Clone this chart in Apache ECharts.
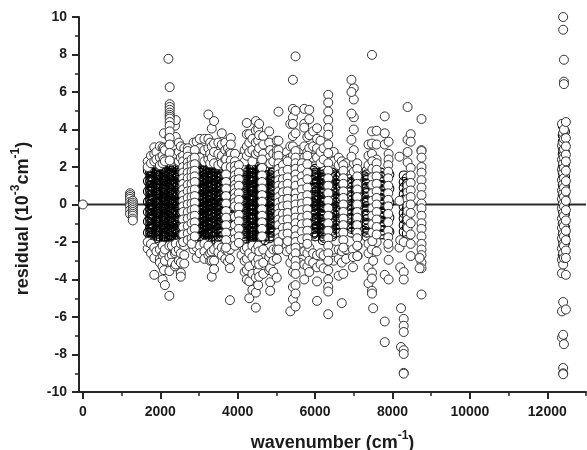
<!DOCTYPE html>
<html><head><meta charset="utf-8">
<style>html,body{margin:0;padding:0;background:#fff}#c{width:587px;height:450px}</style>
<script src="https://cdn.jsdelivr.net/npm/echarts@6/dist/echarts.min.js"></script>
</head><body><div id="c"></div>
<script>
const yTickLabelsMin = -10, yTickLabelsMax = 10;
const xMajorTicks = [0,2000,4000,6000,8000,10000,12000];
const xMinorTicks = [1000,3000,5000,7000,9000,11000,13000];
const baseline = [[0,0],[13000,0]];

// outer points (|residual| large), one row per wavenumber: [wavenumber, residuals]
const wingColumns = [
[1675,[2.3,2.0,-2.35,-2.0]],[1760,[2.6,2.2,-2.1,-2.6]],[1845,[3.05,2.7,2.3,-2.3,-2.85,-3.75]],
[1900,[2.8,2.4,-2.5]],[1990,[3.1,2.5,2.1,-2.4,-2.9,-3.1]],[2060,[3.05,2.6,2.2,-2.2,-2.7,-3.3,-4.0]],
[2096,[3.8,3.0,2.4,-2.6,-3.5]],[2120,[2.9,2.3,-2.4,-3.0,-4.3]],[2235,[3.6,3.2,-2.2,-2.8,-3.55,-4.87]],
[2300,[3.3,2.8,2.3,-2.2,-2.7,-3.1]],[2380,[4.2,3.5,3.0,2.4,-2.6,-3.3]],[2400,[4.5,3.6,2.7,-2.1,-2.5,-3.2]],
[2480,[3.3,2.8,2.3,-2.4,-3.0]],[2530,[3.1,2.5,-2.1,-2.6,-3.1,-3.65,-3.85]],[2620,[3.0,2.6,2.2,-2.2,-2.7,-3.15]],
[2860,[3.3,2.6,2.1,-2.1,-2.4]],[2940,[3.35,2.9,2.4,-2.3,-2.85]],[3020,[3.5,3.0,2.5,-2.2,-2.6]],
[3140,[3.5,2.9,2.3,-2.1,-2.5,-2.9]],[3243,[4.8,3.5,3.0,2.4,-2.2,-2.7]],[3290,[3.3,2.7,2.2,-2.6,-3.0]],
[3330,[4.05,3.1,2.5,-2.5,-3.0,-3.85]],[3390,[4.45,3.25,2.8,2.2,-2.4,-3.0,-3.45]],[3500,[3.3,2.7,2.1,-2.2,-2.55]],
[3590,[3.8,3.2,2.6,2.2,-2.3,-2.7]],[3680,[3.3,2.9,2.4,-2.4,-2.9]],[3750,[3.0,2.6,-2.5,-3.05]],
[3800,[2.8,2.3,-2.4,-2.9,-3.4,-5.1]],[4100,[2.5,2.1,-2.2,-2.7]],[4180,[2.9,2.3,-2.4,-3.0,-3.6]],
[4236,[4.35,3.75,3.1,2.6,-2.3,-2.9,-3.5,-4.0]],[4300,[3.75,3.3,2.8,-2.6,-3.3,-4.1,-5.0]],[4380,[3.5,2.9,2.3,-2.2,-2.8,-3.7,-4.55]],
[4469,[4.45,3.95,3.3,2.7,-2.4,-3.1,-3.9,-4.7,-5.5]],[4530,[4.0,3.4,2.8,-2.2,-2.9,-3.6,-4.3]],[4555,[4.3,3.7,3.0,-2.5,-3.2,-3.85]],
[4660,[3.65,3.2,2.7,2.1,-2.4,-3.1,-3.7]],[4814,[3.9,3.3,2.5,-2.8,-3.5]],[4840,[2.9,2.2,-2.6,-3.4,-4.15,-4.6]],
[4920,[2.7,2.3,-2.4,-3.0,-3.6]],[5010,[3.4,2.9,2.6,-2.4,-2.9,-3.9]],[5270,[2.8,2.4,2.1,-2.2,-2.5]],
[5360,[4.3,3.1,2.5,-2.4,-3.1,-5.7]],[5427,[6.65,5.1,4.65,4.3,3.65,3.1,2.6,-2.8,-3.6,-4.4,-5.05]],[5600,[2.9,2.5,2.0,-2.1,-2.5,-3.1]],
[5720,[5.1,4.3,4.1,3.1,2.5,-2.5,-3.2,-4.0]],[5800,[3.6,2.8,2.3,-2.6,-3.3]],[5850,[5.05,4.55,3.7,3.0,2.4,-2.3,-3.0,-3.6]],
[5950,[3.9,3.1,2.5,-2.6,-3.1]],[6050,[4.07,3.5,3.0,2.5,-2.7,-3.35,-4.1,-5.14]],[6140,[3.4,2.8,2.2,-2.6,-3.2]],
[6220,[3.0,2.4,-2.7,-3.4]],[6480,[2.8,2.3,-2.4,-3.0]],[6610,[2.5,2.1,-2.4,-2.9,-3.8]],
[6690,[2.3,-2.5,-3.1,-5.26]],[6800,[2.2,-2.4,-2.9]],[6980,[-2.4,-2.8,-3.35]],[7100,[-2.2,-2.75]],
[7380,[3.2,2.6,2.1,-2.1,-2.6,-3.37,-4.2]],[7470,[7.98,3.9,3.25,2.7,-2.4,-3.63,-3.95,-4.6,-4.75]],[7500,[-3.0,-5.53]],
[7590,[3.93,3.2,2.4,-2.0,-2.5]],[7800,[4.7,3.8,3.2,-3.75,-6.24,-7.34]],[7900,[3.35,2.7,2.4,-2.3,-2.95,-4.0]],
[8180,[2.55,0.2,-2.3]],[8200,[-1.9,-3.35]],[8220,[-5.53,-7.6]],[8290,[-2.0,-3.6,-4.0,-6.1,-6.47,-6.8,-7.77,-7.97,-8.98,-9.02]]
];

// dense core of the cloud, outlines only: tightly packed lines that read as black stripes
const coreColumns = [
[1740,[1.8,1.7,1.5,1.3,1.2,1,.8,.7,.5,.3,.2,0,-.2,-.3,-.5,-.7,-.8,-1,-1.2,-1.3,-1.5,-1.7,-1.9]],
[1790,[1.7,1.5,1.4,1.2,1,.9,.7,.5,.4,.2,0,-.1,-.3,-.5,-.6,-.8,-1,-1.1,-1.3,-1.5,-1.6,-1.8]],
[1900,[1.9,1.7,1.6,1.4,1.2,1.1,.9,.7,.6,.4,.2,.1,-.1,-.3,-.4,-.6,-.8,-.9,-1.1,-1.3,-1.4,-1.6,-1.8]],
[1950,[2,1.8,1.6,1.5,1.3,1.1,1,.8,.6,.5,.3,.1,0,-.2,-.4,-.5,-.7,-.9,-1,-1.2,-1.4,-1.5,-1.7,-1.9]],
[2090,[1.9,1.8,1.6,1.4,1.3,1.1,.9,.8,.6,.4,.3,.1,-.1,-.2,-.4,-.6,-.7,-.9,-1.1,-1.2,-1.4,-1.6,-1.7,-1.9]],
[2130,[2,1.8,1.7,1.5,1.3,1.2,1,.8,.7,.5,.3,.2,0,-.2,-.3,-.5,-.7,-.8,-1,-1.2,-1.3,-1.5,-1.7,-1.8,-2]],
[2230,[2.1,1.9,1.7,1.6,1.4,1.2,1.1,.9,.7,.6,.4,.2,.1,-.1,-.3,-.4,-.6,-.8,-.9,-1.1,-1.3,-1.4,-1.6,-1.8,-1.9]],
[2280,[2,1.8,1.6,1.5,1.3,1.1,1,.8,.6,.5,.3,.1,0,-.2,-.4,-.5,-.7,-.9,-1,-1.2,-1.4,-1.5,-1.7,-1.9,-2.1]],
[2410,[1.9,1.7,1.6,1.4,1.2,1.1,.9,.7,.6,.4,.2,.1,-.1,-.3,-.4,-.6,-.8,-.9,-1.1,-1.3,-1.4,-1.6,-1.8,-1.9]],
[2450,[1.8,1.6,1.5,1.3,1.1,1,.8,.6,.5,.3,.1,0,-.2,-.4,-.5,-.7,-.9,-1,-1.2,-1.4,-1.5,-1.7,-1.9]],
[3000,[1.9,1.7,1.5,1.4,1.2,1,.9,.7,.5,.4,.2,0,-.1,-.3,-.5,-.6,-.8,-1,-1.1,-1.3,-1.5,-1.7]],
[3060,[2,1.8,1.7,1.5,1.3,1.2,1,.8,.7,.5,.3,.2,0,-.2,-.3,-.5,-.7,-.8,-1,-1.2,-1.3,-1.5,-1.7,-1.9]],
[3140,[2.1,1.9,1.8,1.6,1.4,1.3,1.1,.9,.8,.6,.4,.3,.1,-.1,-.2,-.4,-.6,-.7,-.9,-1.1,-1.2,-1.4,-1.6,-1.8]],
[3230,[2,1.9,1.7,1.5,1.4,1.2,1,.9,.7,.5,.4,.2,0,-.1,-.3,-.5,-.6,-.8,-1,-1.1,-1.3,-1.5,-1.6,-1.8,-2]],
[3300,[2.1,1.9,1.7,1.5,1.4,1.2,1,.9,.7,.5,.4,.2,0,-.1,-.3,-.5,-.6,-.8,-1,-1.1,-1.3,-1.5,-1.6,-1.9]],
[3350,[2,1.8,1.6,1.5,1.3,1.1,1,.8,.6,.5,.3,.1,0,-.2,-.4,-.5,-.7,-.9,-1,-1.2,-1.4,-1.5,-1.7]],
[3510,[1.9,1.7,1.5,1.4,1.2,1,.9,.7,.5,.4,.2,0,-.1,-.3,-.5,-.6,-.8,-1,-1.1,-1.3,-1.5,-1.7,-1.9]],
[3580,[1.8,1.6,1.5,1.3,1.1,1,.8,.6,.5,.3,.1,0,-.2,-.4,-.5,-.7,-.9,-1,-1.2,-1.4,-1.5,-1.7]],
[3780,[1.6,1.5,1.3,1.1,.9,.8,.6,.4,.3,.1,-.1,-.2,-.4,-.6,-.8,-.9,-1.1,-1.3,-1.4,-1.6]],
[4170,[1.9,1.8,1.6,1.4,1.3,1.1,.9,.7,.6,.4,.2,.1,-.1,-.3,-.4,-.6,-.8,-1,-1.1,-1.3,-1.5,-1.7,-1.9]],
[4210,[2,1.8,1.7,1.5,1.3,1.2,1,.8,.6,.5,.3,.1,0,-.2,-.4,-.5,-.7,-.9,-1,-1.2,-1.4,-1.6,-1.8,-2]],
[4390,[2.1,1.9,1.7,1.5,1.4,1.2,1,.9,.7,.5,.4,.2,0,-.1,-.3,-.5,-.7,-.8,-1,-1.2,-1.3,-1.5,-1.7,-1.9,-2.1]],
[4350,[2,1.9,1.7,1.5,1.3,1.2,1,.8,.7,.5,.3,.2,0,-.2,-.3,-.5,-.7,-.8,-1,-1.2,-1.4,-1.6,-1.8,-2]],
[4500,[2,1.8,1.6,1.5,1.3,1.1,1,.8,.6,.5,.3,.1,-.1,-.2,-.4,-.6,-.7,-.9,-1.1,-1.2,-1.4,-1.6,-1.8,-2]],
[4600,[1.9,1.7,1.5,1.4,1.2,1,.9,.7,.5,.3,.2,0,-.2,-.3,-.5,-.7,-.9,-1,-1.2,-1.4,-1.5,-1.7,-1.9]],
[4700,[1.9,1.8,1.6,1.4,1.2,1.1,.9,.7,.6,.4,.2,0,-.1,-.3,-.5,-.6,-.8,-1,-1.2,-1.3,-1.5,-1.7,-1.9]],
[4830,[1.8,1.6,1.4,1.3,1.1,.9,.8,.6,.4,.2,.1,-.1,-.3,-.4,-.6,-.8,-1,-1.1,-1.3,-1.5,-1.7,-1.8]],
[4890,[1.7,1.5,1.4,1.2,1,.8,.7,.5,.3,.2,0,-.2,-.3,-.5,-.7,-.9,-1,-1.2,-1.4,-1.5,-1.7]],
[5950,[1.8,1.6,1.5,1.3,1.1,.9,.8,.6,.4,.3,.1,-.1,-.3,-.4,-.6,-.8,-.9,-1.1,-1.3,-1.5,-1.6]],
[6000,[1.9,1.7,1.6,1.4,1.2,1.1,.9,.7,.5,.4,.2,0,-.1,-.3,-.5,-.7,-.8,-1,-1.2,-1.3,-1.5,-1.7]],
[6200,[1.9,1.8,1.6,1.4,1.3,1.1,.9,.7,.6,.4,.2,.1,-.1,-.3,-.5,-.6,-.8,-1,-1.1,-1.3,-1.5,-1.7,-1.9]],
[6240,[1.8,1.6,1.5,1.3,1.1,1,.8,.6,.4,.3,.1,-.1,-.2,-.4,-.6,-.8,-.9,-1.1,-1.3,-1.4,-1.6,-1.8]],
[6440,[1.7,1.5,1.4,1.2,1,.8,.7,.5,.3,.2,0,-.2,-.4,-.5,-.7,-.9,-1,-1.2,-1.4,-1.6,-1.7]],
[6530,[1.6,1.5,1.3,1.1,.9,.8,.6,.4,.3,.1,-.1,-.3,-.4,-.6,-.8,-.9,-1.1,-1.3,-1.5]],
[6940,[1.6,1.4,1.2,1.1,.9,.7,.5,.4,.2,0,-.1,-.3,-.5,-.7,-.8,-1,-1.2,-1.3,-1.5]],
[7050,[1.5,1.4,1.2,1,.8,.7,.5,.3,.2,0,-.2,-.4,-.5,-.7,-.9,-1,-1.2,-1.4]],
[7330,[1.8,1.6,1.4,1.3,1.1,.9,.7,.6,.4,.2,.1,-.1,-.3,-.5,-.6,-.8,-1,-1.1,-1.3,-1.5,-1.7]],
[7700,[1.7,1.5,1.3,1.2,1,.8,.6,.5,.3,.1,0,-.2,-.4,-.6,-.7,-.9,-1.1,-1.2,-1.4,-1.6]],
[7760,[1.5,1.4,1.2,1,.8,.7,.5,.3,.1,0,-.2,-.4,-.5,-.7,-.9,-1.1,-1.2,-1.4,-1.6]],
// lighter mesh between the stripes
[1682,[1.8,1.25,.7,.15,-.4,-.9,-1.5]],[2536,[1.8,1.2,.65,.1,-.45,-1.05,-1.6]],[2924,[1.7,1.15,.6,.05,-.5,-1.1,-1.65]],
[3623,[1.8,1.2,.65,.1,-.5,-1.05,-1.65]],[3856,[1.6,1.05,.45,-.1,-.65,-1.2]],[4011,[1.5,.95,.4,-.2,-.75,-1.3]],
[5098,[1.5,.9,.35,-.25,-.85,-1.4]],[5254,[1.7,1.05,.4,-.15,-.7,-1.35]],[5486,[1.5,1.05,.6,.1,-.4,-.85,-1.3,-1.75]],
[5667,[1.6,1.15,.7,.2,-.3,-.75,-1.2,-1.65]],[5823,[1.7,1.2,.75,.3,-.2,-.65,-1.15,-1.6]],[6651,[1.55,.95,.3,-.3,-.9,-1.5]],
[7143,[1.4,.7,0,-.7,-1.4]],[7272,[1.5,.8,.1,-.6,-1.4]],[7919,[1.6,.85,.1,-.7,-1.45]],
[8290,[1.55,1.2,.9,.55,.25,-.1,-.45,-.75,-1.1,-1.45]],[8370,[1.4,1.1,.75,.4,.1,-.2,-.5,-.85,-1.2,-1.55]],
[12400,[4.2,3.7,3.35,3.0,2.7,2.3,2.0,1.7,1.4,1.05,.8,.5,.2,-.1,-.35,-.7,-1,-1.3,-1.6,-1.9,-2.3,-2.7]],
[12455,[3.9,3.2,2.8,2.45,2.15,1.85,1.5,1.2,.95,.6,.3,0,-.25,-.5,-.9,-1.2,-1.5,-1.75,-2.05,-2.5]]
];

// white stacked columns on top of the cloud, plus isolated points
const stackColumns = [
[0,[0]],
[1220,[0.6,0.5,0.4,0.3,0.15,0,-0.1,-0.3,-0.5]],
[1290,[0.2,0.1,0,-0.1,-0.2,-0.3,-0.4,-0.5,-0.6,-0.75,-0.85]],
[2210,[7.77]],
[2243,[6.26,5.35,5.2,5.05,4.9,4.78,4.68,4.58,4.4,4.2,3.9,3.55,3.2,2.75,2.35]],
[2590,[2.6,2.3,2.0,1.7,1.4,1.1,.8,.5,.2,-.1,-.4,-.8,-1.2,-1.6,-2.0]],
[2710,[3.0,2.85,2.55,2.25,2.0,1.7,1.4,1.05,0.7,.35,0,-.4,-.75,-1.15,-1.55,-1.9]],
[2810,[2.4,2.1,1.75,1.45,1.1,.75,.4,.05,-.3,-.65,-1,-1.4,-1.8,-2.1]],
[2890,[2.9,2.5,2.15,1.8,1.5,1.2,.8,.45,.1,-.25,-.6,-.95,-1.3,-1.7]],
[3700,[2.4,2,1.6,1.2,.85,.45,.05,-.35,-.7,-1.1,-1.5,-1.9,-2.3]],
[3822,[3.55,3.2,2.7,2.35,2.0]],
[3930,[2.7,2.3,2.05,1.8,1.55,1.3,1.05,0.85,0.6,0.35,0.1,-0.1,-0.65,-1.1,-1.5,-1.85,-2.2]],
[4030,[2.1,1.7,1.35,1,.6,.25,-.15,-.55,-.9,-1.3,-1.7,-2.05]],
[4630,[2.4,1.95,1.55,1.2,0.85,0.5,0.15,-0.25,-0.6,-0.95,-1.3,-1.7]],
[5055,[4.95,3.4,2.9,2.6,2.2,1.9,1.6,1.3,1.0,0.7,0.4,0.1,-0.2,-0.5,-0.8,-1.1,-1.5,-1.8,-2.0,-2.4]],
[5170,[2.1,1.75,1.35,1,.65,.25,-.1,-.5,-.85,-1.25,-1.6]],
[5290,[2.3,1.85,1.45,1.1,.7,.3,-.05,-.45,-.8,-1.2,-1.55,-1.95]],
[5495,[7.9,5.0,3.8,2.85,2.5,2.2,1.9,1.6,1.3,1.0,0.6,0.3,0,-0.35,-0.7,-1.0,-1.35,-1.7,-2.0,-2.3,-2.6,-3.0,-3.3,-3.7,-4.3,-4.75,-5.44]],
[5660,[2.2,1.9,1.5,1.15,.8,.4,.05,-.3,-.7,-1.05,-1.45,-1.85]],
[5800,[2.6,2.15,1.7,1.35,.9,.5,.15,-.25,-.6,-1,-1.4,-1.8,-2.1]],
[6340,[5.85,5.44,4.96,4.5,4.08,3.72,3.2,2.74,2.2,1.8,1.4,1.0,0.6,0.2,-0.2,-0.6,-1.0,-1.4,-1.8,-2.2,-2.6,-3.0,-3.5,-4.0,-4.4,-4.64,-5.85]],
[6730,[2.1,1.8,1.4,1.1,0.7,0.35,0,-0.4,-0.75,-1.1,-1.5,-1.9,-2.3,-3.7]],
[7000,[6.2,5.6,4.65,4.0,2.9,2.2,1.75]],
[6940,[6.65,6.0,4.85,3.45,2.55]],
[7090,[2.2,1.9,1.5,1.1,0.8,0.4,0,-0.4,-0.7,-1.1,-1.5,-1.8,-2.2,-2.75]],
[7480,[2.3,1.9,1.45,1.05,0.6,0.2,-0.2,-0.6,-1.05,-1.5,-1.95]],
[7590,[2.2,1.85,1.5,1.1,0.7,0.35,0,-0.4,-0.8,-1.2,-1.6]],
[7890,[2.1,1.75,1.4,1.0,0.6,0.25,-0.1,-0.5,-0.95,-1.4,-1.75,-2.1]],
[8390,[5.2,3.45,2.8,2.25,1.0,0.65,0.3,-0.05,-0.35,-0.8,-1.25]],
[8470,[3.75,3.35,1.95,1.55,1.15,0.75,0.4,0,-0.45,-1.0,-1.6,-2.1,-2.75]],
[8750,[4.56,2.9,2.85,2.5,2.0,1.7,1.3,0.9,0.5,0.05,-0.2,-0.6,-1.0,-1.3,-1.7,-2.1,-2.4,-2.7,-3.1,-3.4,-4.8]],
[8700,[-3.4,-2.85]],
[12380,[4.3,3.15,2.4,1.85,1.3,0.75,0.3,-0.2,-0.75,-1.25,-1.8,-2.35,-2.95,-3.67,-5.7,-7.1]],
[12410,[10,9.32,3.8,3.3,2.9,2.6,2.2,1.7,1.1,0.6,0.05,-0.45,-1.0,-1.55,-2.1,-2.6,-3.2,-5.2,-6.95,-8.72,-9.0,-9.05]],
[12430,[7.72,6.55,6.42,4.0,3.5,2.95,2.5,1.95,1.4,0.9,0.4,-0.1,-0.6,-1.15,-1.7,-2.2,-2.85,-7.45]],
[12480,[4.4,3.54,3.1,2.66,2.3,1.8,1.25,0.7,0.2,-0.3,-0.85,-1.4,-1.9,-2.45,-2.85,-3.75,-5.6]]
];

const toPoints = cols => cols.flatMap(([x, ys]) => ys.map(y => [x, y]));
const ink = '#333333', axisInk = '#262626';
const circle = (name, cols, fill, z, stroke, width) => ({
  name, type: 'scatter', data: toPoints(cols), symbol: 'circle', symbolSize: 9, clip: true, silent: true, z,
  itemStyle: {color: fill, borderColor: stroke, borderWidth: width, opacity: 1}
});
const textFont = {fontFamily: '"Liberation Sans"', fontWeight: 'bold', color: '#1c1c1c'};
const nameRich = {
  b: {...textFont, fontSize: 18, verticalAlign: 'bottom', lineHeight: 22},
  s: {...textFont, fontSize: 12, verticalAlign: 'top', lineHeight: 22}
};
const plain = v => String(v);
const chart = echarts.init(document.getElementById('c'), null, {renderer: 'canvas'});
chart.setOption({
  animation: false,
  grid: {left: 79, right: 1, top: 17, bottom: 58, containLabel: false, outerBoundsMode: 'none'},
  xAxis: [{
    type: 'value', min: -100, max: 13000, position: 'bottom', splitLine: {show: false},
    axisLine: {lineStyle: {color: axisInk, width: 2}, onZero: false},
    axisTick: {customValues: xMajorTicks, length: 7, lineStyle: {color: axisInk, width: 2}},
    axisLabel: {customValues: xMajorTicks, margin: 13, fontSize: 14, formatter: plain, ...textFont},
    name: '{b|wavenumber (cm}{s|-1}{b|)}', nameLocation: 'middle', nameGap: 38,
    nameTextStyle: {rich: nameRich}
  }, {
    type: 'value', min: -100, max: 13000, position: 'bottom', splitLine: {show: false},
    axisLine: {show: false, onZero: false},
    axisTick: {customValues: xMinorTicks, length: 4, lineStyle: {color: axisInk, width: 1.5}},
    axisLabel: {show: false}
  }],
  yAxis: {
    type: 'value', min: yTickLabelsMin, max: yTickLabelsMax, interval: 2, splitLine: {show: false},
    axisLine: {show: true, lineStyle: {color: axisInk, width: 2}, onZero: false},
    axisTick: {show: true, length: 7, lineStyle: {color: axisInk, width: 2}},
    minorTick: {show: true, splitNumber: 2, length: 4, lineStyle: {color: axisInk, width: 1.5}},
    axisLabel: {margin: 12, fontSize: 14, formatter: plain, ...textFont},
    name: '{b|residual (10}{s|-3}{b|cm}{s|-1}{b|)}', nameLocation: 'middle', nameGap: 47,
    nameTextStyle: {rich: nameRich, padding: [0, 28, 0, 0]}
  },
  series: [
    {name: 'baseline', type: 'line', data: baseline, symbol: 'none', silent: true, z: 1,
     lineStyle: {color: '#2a2a2a', width: 2}},
    circle('core', coreColumns, 'rgba(255,255,255,0)', 2, '#000000', 1.1),
    circle('wings', wingColumns, '#ffffff', 3, ink, 1),
    circle('stacks', stackColumns, '#ffffff', 4, ink, 1)
  ]
});
</script></body></html>
